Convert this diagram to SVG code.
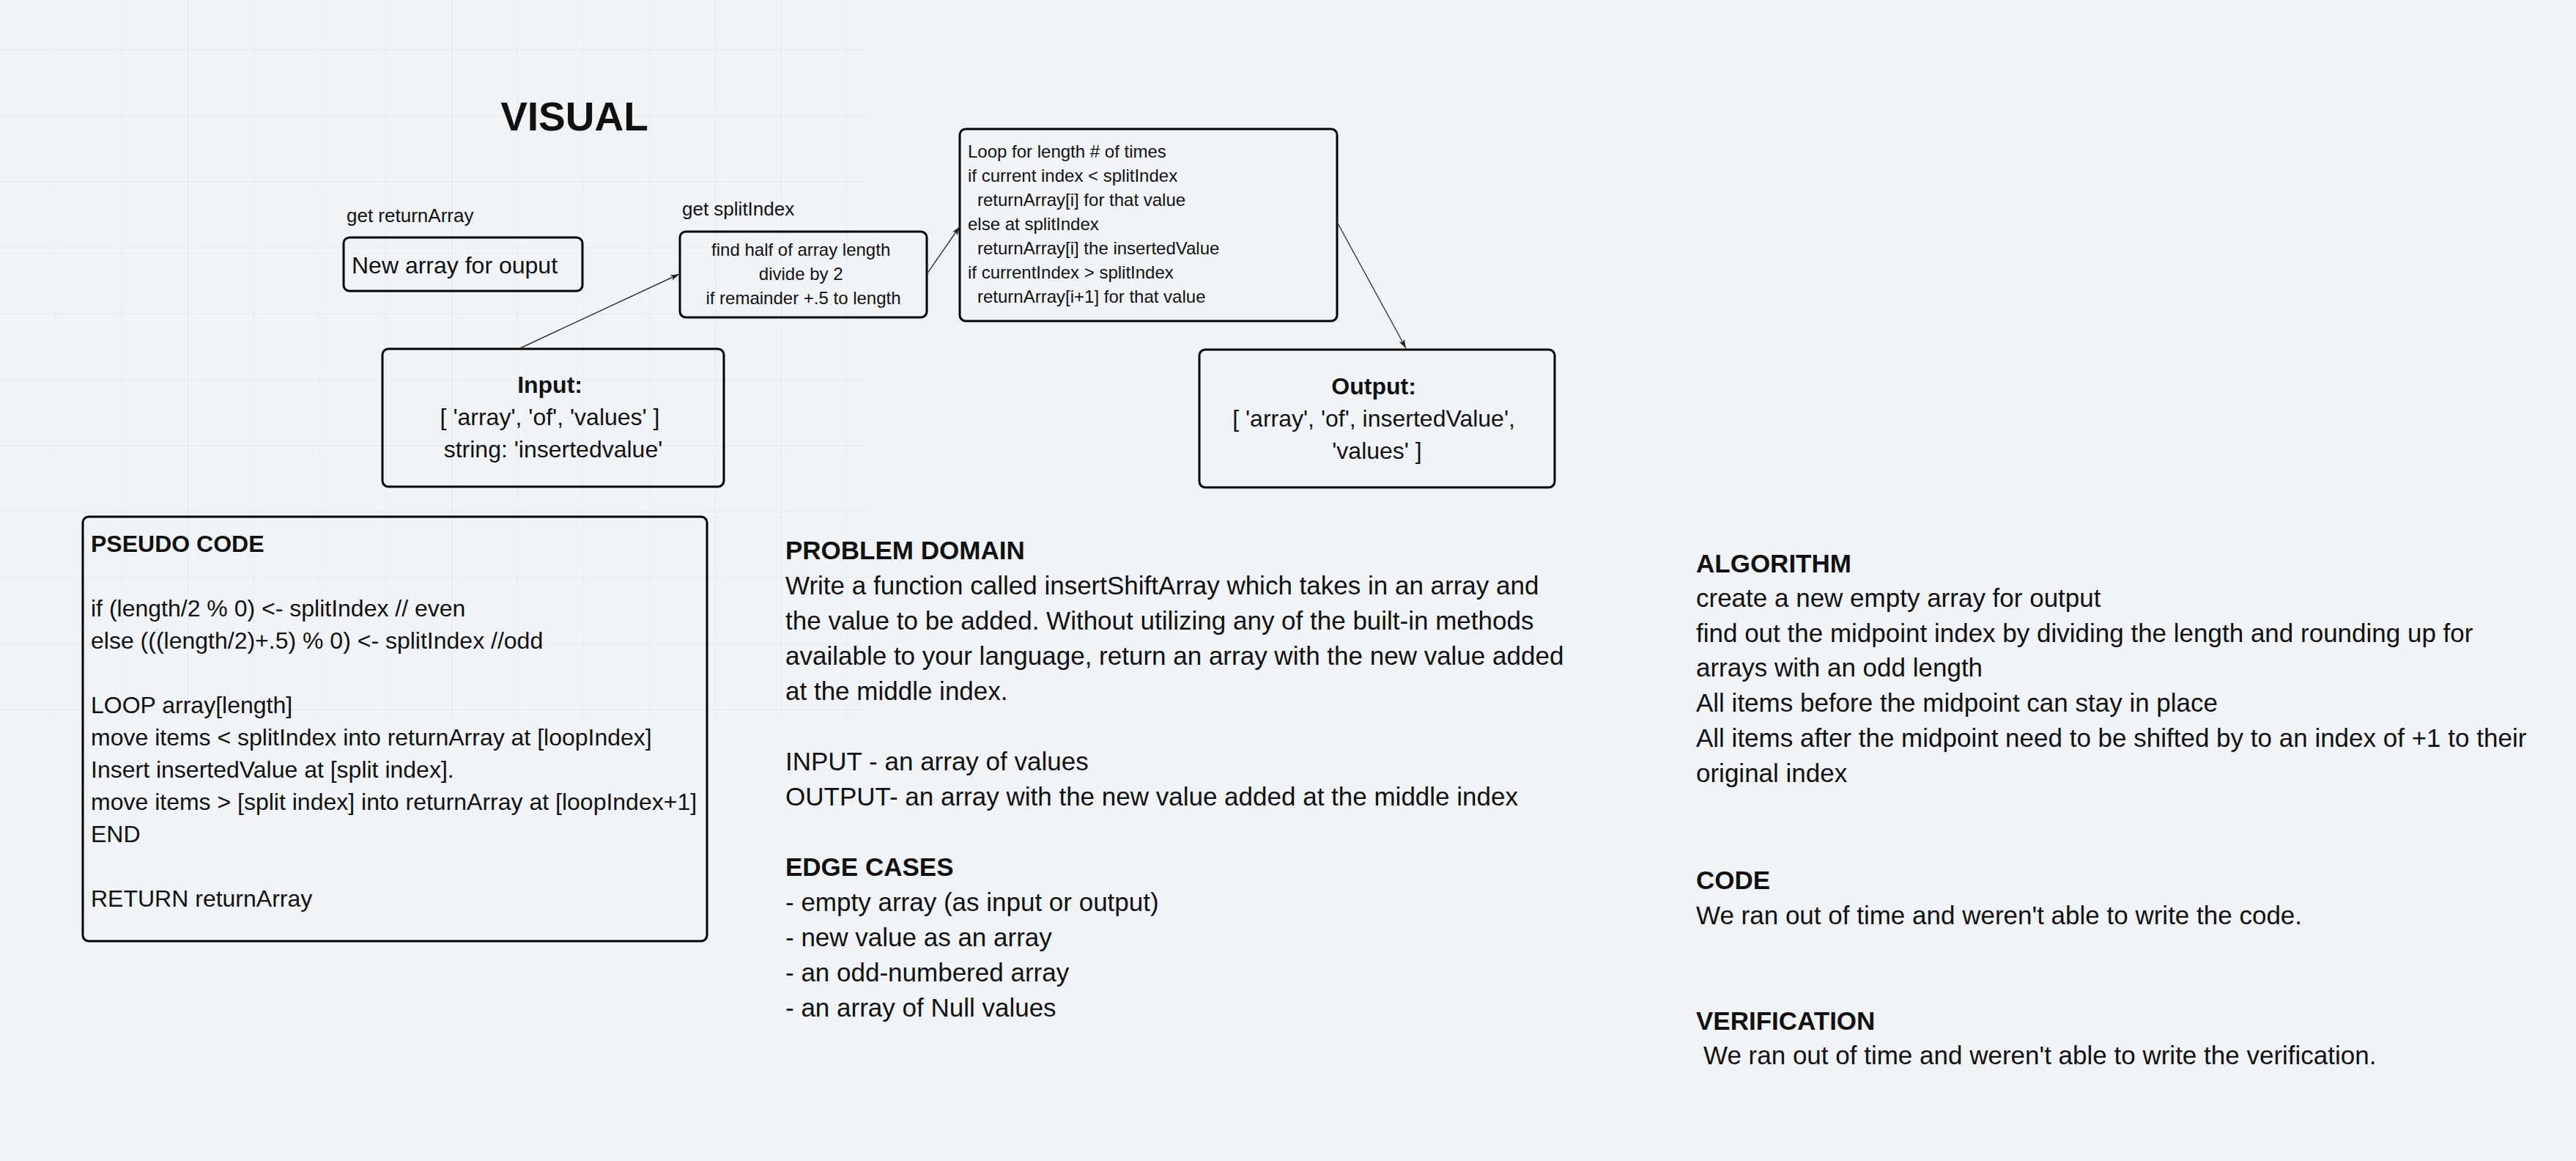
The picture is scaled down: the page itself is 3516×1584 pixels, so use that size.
<svg xmlns="http://www.w3.org/2000/svg" width="3516" height="1584" viewBox="0 0 3516 1584">
<defs>
<pattern id="grid" x="-13" y="-21" width="90" height="90" patternUnits="userSpaceOnUse">
<path d="M90 0 V90 M0 90 H90" fill="none" stroke="#e3e8ed" stroke-width="1.5"/>
</pattern>
<marker id="arr" viewBox="0 0 12 8" refX="12" refY="4" markerWidth="12" markerHeight="8" markerUnits="userSpaceOnUse" orient="auto">
<path d="M0 0 L12 4 L0 8 L3 4 Z" fill="#222"/>
</marker>
<style>
text{font-family:"Liberation Sans",Arial,sans-serif;fill:#111}
.box{fill:none;stroke:#000;stroke-width:3}
.b{font-weight:bold}
.s24{font-size:24px}
.s26{font-size:26px}
.s32{font-size:32px}
.s35{font-size:35px}
.c{text-anchor:middle}
.conn{fill:none;stroke:#333;stroke-width:1.4;marker-end:url(#arr)}
</style>
</defs>
<rect width="3516" height="1584" fill="#f0f4f7"/>
<rect x="0" y="0" width="1187" height="980" fill="url(#grid)"/>

<g id="title">
<text x="784" y="178" class="c b" style="font-size:55px">VISUAL</text>
</g>

<g id="label-returnArray">
<text x="473" y="303" class="s26">get returnArray</text>
</g>
<g id="node-newArray">
<rect class="box" x="469" y="324" width="326" height="73" rx="8"/>
<text x="480" y="373" class="s32">New array for ouput</text>
</g>

<g id="label-splitIndex">
<text x="931" y="294" class="s26">get splitIndex</text>
</g>
<g id="node-splitIndex">
<rect class="box" x="928" y="316" width="337" height="117" rx="8"/>
<text class="s24 c">
<tspan x="1096.5" y="349">find half of array length</tspan>
<tspan x="1096.5" y="382">divide by 2</tspan>
<tspan x="1096.5" y="415">if remainder +.5 to length</tspan>
</text>
</g>

<g id="node-loop">
<rect class="box" x="1310" y="176" width="515" height="262" rx="8"/>
<text class="s24">
<tspan x="1321" y="215">Loop for length # of times</tspan>
<tspan x="1321" y="248">if current index &lt; splitIndex</tspan>
<tspan x="1334" y="281">returnArray[i] for that value</tspan>
<tspan x="1321" y="314">else at splitIndex</tspan>
<tspan x="1334" y="347">returnArray[i] the insertedValue</tspan>
<tspan x="1321" y="380">if currentIndex &gt; splitIndex</tspan>
<tspan x="1334" y="413">returnArray[i+1] for that value</tspan>
</text>
</g>

<g id="node-input">
<rect class="box" x="522" y="476" width="466" height="188" rx="8"/>
<text class="s32 c">
<tspan x="755" y="536" class="b">Input:</tspan>
<tspan x="755" y="580">[ 'array', 'of', 'values' ]</tspan>
<tspan x="755" y="624">string: 'insertedvalue'</tspan>
</text>
</g>

<g id="node-output">
<rect class="box" x="1637" y="477" width="485" height="188" rx="8"/>
<text class="s32 c">
<tspan x="1879.5" y="538" class="b">Output:</tspan>
<tspan x="1879.5" y="582">[ 'array', 'of', insertedValue',</tspan>
<tspan x="1879.5" y="626">'values' ]</tspan>
</text>
</g>

<g id="node-pseudocode">
<rect class="box" x="113" y="705" width="852" height="579" rx="8"/>
<text class="s32">
<tspan x="124" y="753" class="b">PSEUDO CODE</tspan>
<tspan x="124" y="841">if (length/2 % 0) &lt;- splitIndex // even</tspan>
<tspan x="124" y="885">else (((length/2)+.5) % 0) &lt;- splitIndex //odd</tspan>
<tspan x="124" y="973">LOOP array[length]</tspan>
<tspan x="124" y="1017">move items &lt; splitIndex into returnArray at [loopIndex]</tspan>
<tspan x="124" y="1061">Insert insertedValue at [split index].</tspan>
<tspan x="124" y="1105">move items &gt; [split index] into returnArray at [loopIndex+1]</tspan>
<tspan x="124" y="1149">END</tspan>
<tspan x="124" y="1237">RETURN returnArray</tspan>
</text>
</g>

<g id="problem-domain">
<text class="s35">
<tspan x="1072" y="762.5" class="b">PROBLEM DOMAIN</tspan>
<tspan x="1072" y="810.5">Write a function called insertShiftArray which takes in an array and</tspan>
<tspan x="1072" y="858.5">the value to be added. Without utilizing any of the built-in methods</tspan>
<tspan x="1072" y="906.5">available to your language, return an array with the new value added</tspan>
<tspan x="1072" y="954.5">at the middle index.</tspan>
<tspan x="1072" y="1050.5">INPUT - an array of values</tspan>
<tspan x="1072" y="1098.5">OUTPUT- an array with the new value added at the middle index</tspan>
<tspan x="1072" y="1194.5" class="b">EDGE CASES</tspan>
<tspan x="1072" y="1242.5">- empty array (as input or output)</tspan>
<tspan x="1072" y="1290.5">- new value as an array</tspan>
<tspan x="1072" y="1338.5">- an odd-numbered array</tspan>
<tspan x="1072" y="1386.5">- an array of Null values</tspan>
</text>
</g>

<g id="algorithm">
<text class="s35">
<tspan x="2315" y="780.5" class="b">ALGORITHM</tspan>
<tspan x="2315" y="828">create a new empty array for output</tspan>
<tspan x="2315" y="875.5">find out the midpoint index by dividing the length and rounding up for</tspan>
<tspan x="2315" y="923">arrays with an odd length</tspan>
<tspan x="2315" y="971">All items before the midpoint can stay in place</tspan>
<tspan x="2315" y="1019">All items after the midpoint need to be shifted by to an index of +1 to their</tspan>
<tspan x="2315" y="1066.5">original index</tspan>
</text>
</g>

<g id="code">
<text class="s35">
<tspan x="2315" y="1213" class="b">CODE</tspan>
<tspan x="2315" y="1260.5">We ran out of time and weren't able to write the code.</tspan>
</text>
</g>

<g id="verification">
<text class="s35">
<tspan x="2315" y="1404.5" class="b">VERIFICATION</tspan>
<tspan x="2325" y="1452">We ran out of time and weren't able to write the verification.</tspan>
</text>
</g>

<g id="connectors">
<line class="conn" x1="710" y1="475" x2="927" y2="374"/>
<line class="conn" x1="1265" y1="374" x2="1310" y2="309"/>
<line class="conn" x1="1825" y1="303" x2="1919" y2="475"/>
</g>
</svg>
